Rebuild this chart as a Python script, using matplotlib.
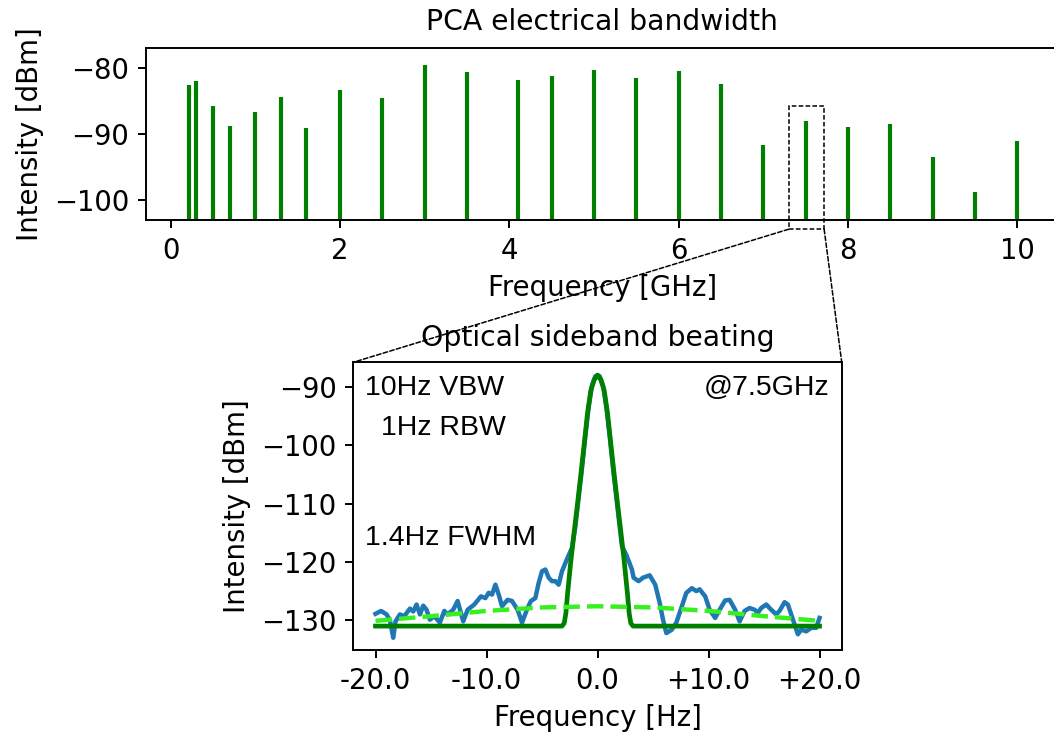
import matplotlib
matplotlib.use("Agg")
import matplotlib.pyplot as plt
import matplotlib.patches as patches

# top panel: beat note power vs frequency
freqs_ghz = [0.22, 0.3, 0.5, 0.7, 1.0, 1.3, 1.6, 2.0, 2.5, 3.0, 3.5, 4.1, 4.5, 5.0,
             5.5, 6.0, 6.5, 7.0, 7.5, 8.0, 8.5, 9.0, 9.5, 10.0]
power_dbm = [-82.6, -82.0, -85.7, -88.8, -86.6, -84.4, -89.0, -83.3, -84.5, -79.5,
             -80.6, -81.8, -81.2, -80.3, -81.5, -80.4, -82.4, -91.7, -88.0, -88.9,
             -88.4, -93.4, -98.7, -91.0]
top_xticks = [0, 2, 4, 6, 8, 10]
top_yticks = [-80, -90, -100]

# bottom panel: measured beat note at 7.5 GHz
meas_hz = [-20.0, -19.5, -19.0, -18.7, -18.4, -18.2, -17.8, -17.4, -16.9, -16.6,
           -16.3, -16.0, -15.7, -15.4, -15.1, -14.7, -14.2, -13.8, -13.5, -13.0,
           -12.6, -12.1, -11.7, -11.1, -10.5, -10.1, -9.8, -9.5, -9.2, -8.9,
           -8.6, -8.1, -7.7, -7.2, -6.8, -6.3, -6.0, -5.6, -5.3, -5.0,
           -4.7, -4.4, -4.1, -3.8, -3.5, -3.2, -2.7, -2.3, -2.0, -1.7,
           -1.4, -1.1, -0.8, -0.5, -0.2, 0.0, 0.2, 0.5, 0.8, 1.1,
           1.4, 1.7, 2.0, 2.2, 2.6, 3.1, 3.25, 3.7, 4.1, 4.7,
           5.2, 5.6, 5.9, 6.2, 6.7, 7.1, 7.6, 8.0, 8.5, 8.9,
           9.2, 9.7, 10.1, 10.6, 11.0, 11.5, 11.9, 12.4, 12.8, 13.25,
           13.7, 14.15, 14.45, 14.75, 15.2, 15.65, 16.1, 16.4, 16.85, 17.15,
           17.45, 17.75, 18.05, 18.35, 18.8, 19.25, 19.7, 20.0]
meas_dbm = [-128.9, -128.4, -129.0, -130.0, -133.0, -130.2, -129.0, -129.3, -128.0, -128.5,
            -127.3, -129.0, -127.5, -128.2, -129.9, -129.3, -130.4, -128.4, -129.0, -128.2,
            -126.7, -130.2, -128.2, -127.3, -125.9, -126.2, -125.3, -125.6, -123.9, -125.6,
            -127.6, -126.5, -126.7, -128.2, -130.4, -127.9, -126.7, -126.2, -123.6, -121.6,
            -121.3, -122.7, -123.3, -123.3, -123.9, -121.6, -119.3, -117.6, -114.0, -109.0,
            -104.0, -98.5, -93.5, -89.8, -88.2, -88.0, -88.2, -89.8, -93.5, -98.5,
            -104.0, -109.0, -114.0, -117.3, -118.8, -121.3, -122.7, -123.3, -122.7, -122.3,
            -123.9, -127.0, -129.9, -132.2, -131.6, -130.4, -127.6, -125.3, -124.5, -125.0,
            -124.7, -125.9, -128.2, -129.6, -128.2, -126.6, -126.5, -128.2, -130.2, -128.4,
            -127.9, -128.2, -128.7, -127.9, -127.3, -128.2, -129.0, -128.4, -126.9, -127.3,
            -129.0, -130.7, -132.4, -131.6, -131.9, -131.3, -131.3, -129.6]

# fitted 1.4 Hz FWHM line shape
fit_hz = [-20.0, -3.2, -3.0, -2.85, -2.7, -2.4, -2.1, -1.8, -1.5, -1.2, -0.9, -0.6, -0.3, 0.0,
          0.3, 0.6, 0.9, 1.2, 1.5, 1.8, 2.1, 2.4, 2.7, 2.85, 3.0, 3.2, 20.0]
fit_dbm = [-131.0, -131.0, -130.5, -128.8, -125.5, -119.8, -114.8, -110.0, -105.0, -99.8,
           -94.5, -90.6, -88.8, -88.0, -88.8, -90.6, -94.5, -99.8, -105.0, -110.0,
           -114.8, -119.8, -125.5, -128.8, -130.5, -131.0, -131.0]

# broad background
bg_hz = [-20, -15, -10, -5, 0, 5, 10, 15, 20]
bg_dbm = [-130.1, -129.3, -128.4, -127.8, -127.6, -127.8, -128.4, -129.3, -130.1]

bottom_xticks = [-20, -10, 0, 10, 20]
bottom_xlabels = ["-20.0", "-10.0", "0.0", "+10.0", "+20.0"]
bottom_yticks = [-90, -100, -110, -120, -130]

plt.rcParams['font.family'] = 'DejaVu Sans'
plt.rcParams['font.size'] = 19.8
plt.rcParams['axes.linewidth'] = 1.4
for ax_name in ['xtick', 'ytick']:
    plt.rcParams[ax_name + '.major.size'] = 6
    plt.rcParams[ax_name + '.major.width'] = 1.4
    plt.rcParams[ax_name + '.major.pad'] = 6
plt.rcParams['axes.labelpad'] = 7
plt.rcParams['axes.titlesize'] = 20.3

fig = plt.figure(figsize=(10.54, 7.38), dpi=100)

ax1 = fig.add_axes([0.1386, 0.7019, 0.8658, 0.2327])
ax1.vlines(freqs_ghz, -110, power_dbm, color='green', lw=3.0)
ax1.set_xlim(-0.29, 10.49)
ax1.set_ylim(-103, -77)
ax1.set_xticks(top_xticks)
ax1.set_yticks(top_yticks)
ax1.set_xlabel("Frequency [GHz]")
ax1.set_ylabel("Intensity [dBm]")
ax1.set_title("PCA electrical bandwidth", pad=13)

ax2 = fig.add_axes([0.3352, 0.1192, 0.4634, 0.3899])
ax2.plot(meas_hz, meas_dbm, color='#1f77b4', lw=3.2, solid_joinstyle='round')
ax2.plot(fit_hz, fit_dbm, color='green', lw=3.4, solid_joinstyle='round')
ax2.plot(bg_hz, bg_dbm, color='#38f020', lw=3.2, ls='--')
ax2.set_xlim(-22, 22)
ax2.set_ylim(-135.1, -85.8)
ax2.set_xticks(bottom_xticks)
ax2.set_xticklabels(bottom_xlabels)
ax2.set_yticks(bottom_yticks)
ax2.set_xlabel("Frequency [Hz]")
ax2.set_ylabel("Intensity [dBm]")
ax2.set_title("Optical sideband beating", pad=12)

note_font = dict(family='Liberation Sans', fontsize=20.5)
ax2.text(-20.98, -91.4, "10Hz VBW", **note_font)
ax2.text(-19.5, -98.25, "1Hz RBW", **note_font)
ax2.text(-20.98, -117.1, "1.4Hz FWHM", **note_font)
ax2.text(20.88, -91.4, "@7.5GHz", ha='right', **note_font)

# zoom box on the 7.5 GHz tone and the lines to the lower panel
box = patches.Rectangle((7.3, -104.4), 0.42, 18.6, fill=False, ls=(0, (3, 1.5)),
                        lw=1.1, color='black', clip_on=False)
ax1.add_patch(box)
for xa, xb in [(7.3, 0.0), (7.72, 1.0)]:
    con = patches.ConnectionPatch(xyA=(xa, -104.4), coordsA=ax1.transData,
                                  xyB=(xb, 1.0), coordsB=ax2.transAxes,
                                  ls=(0, (3, 1.5)), lw=1.1, color='black')
    fig.add_artist(con)

fig.savefig("out.png", dpi=100)
